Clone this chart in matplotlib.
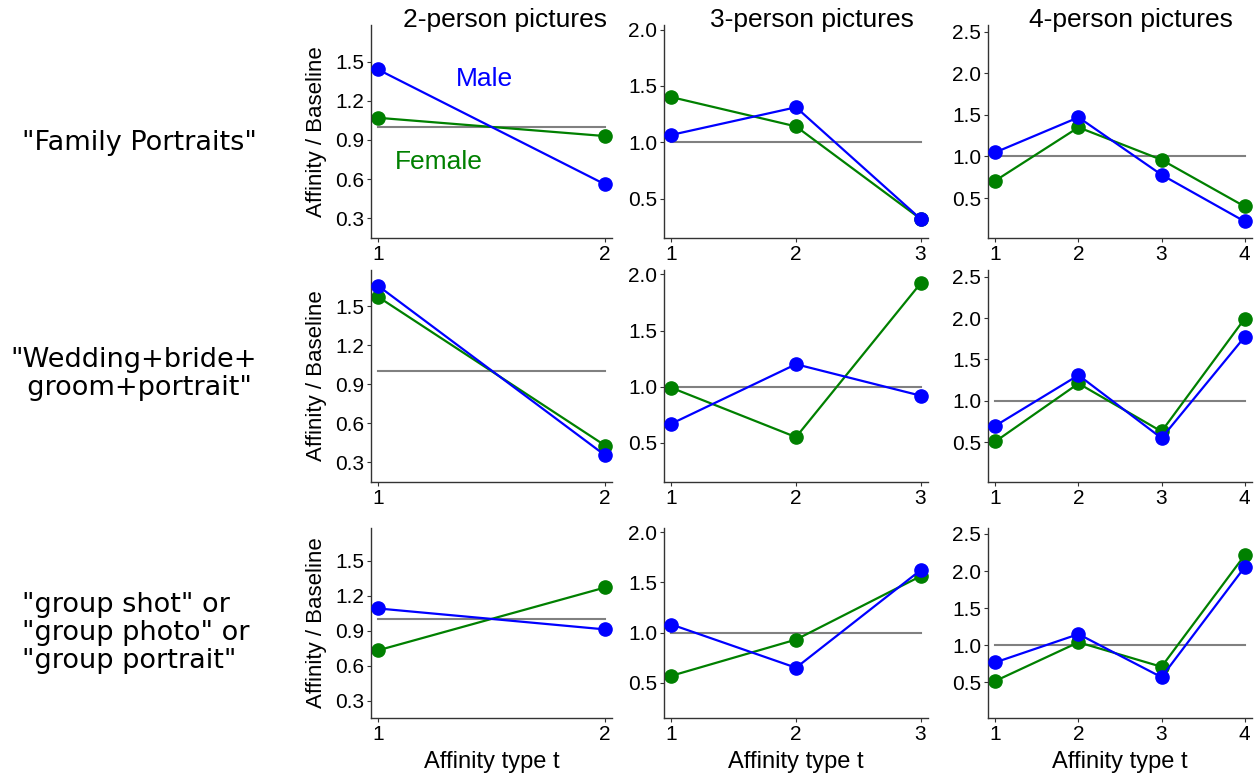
import matplotlib
matplotlib.use('Agg')
import matplotlib.pyplot as plt

# rows: query type, cols: group size (2, 3, 4 persons)
row_labels = ['"Family Portraits"',
              '"Wedding+bride+\n  groom+portrait"',
              '"group shot" or\n"group photo" or\n"group portrait"']
col_titles = ['2-person pictures', '3-person pictures', '4-person pictures']

male = [
    [[1.44, 0.56], [1.065, 1.31, 0.32], [1.05, 1.47, 0.78, 0.22]],
    [[1.66, 0.355], [0.67, 1.20, 0.92], [0.70, 1.31, 0.55, 1.77]],
    [[1.09, 0.91], [1.08, 0.65, 1.62], [0.77, 1.15, 0.57, 2.05]],
]
female = [
    [[1.07, 0.93], [1.40, 1.14, 0.32], [0.71, 1.35, 0.96, 0.40]],
    [[1.575, 0.43], [0.99, 0.55, 1.92], [0.51, 1.21, 0.63, 1.99]],
    [[0.73, 1.27], [0.57, 0.93, 1.56], [0.52, 1.04, 0.71, 2.21]],
]

y_ticks = [[0.3, 0.6, 0.9, 1.2, 1.5], [0.5, 1.0, 1.5, 2.0], [0.5, 1.0, 1.5, 2.0, 2.5]]
y_lims = [(0.15, 1.78), (0.15, 2.04), (0.02, 2.58)]

tick_font = 'Liberation Sans'
W, H = 1256, 774
col_px = [(371, 612), (664, 928), (988, 1252)]
row_px = [(25, 238), (270, 482), (528, 718)]
title_x = [0.555, 0.56, 0.54]

fig = plt.figure(figsize=(W / 100, H / 100), dpi=100)

for r in range(3):
    for c in range(3):
        x0, x1 = col_px[c]
        y0, y1 = row_px[r]
        ax = fig.add_axes([x0 / W, 1 - y1 / H, (x1 - x0) / W, (y1 - y0) / H])
        n = c + 2
        xs = list(range(1, n + 1))
        ax.plot([1, n], [1, 1], color='#808080', lw=1.5, zorder=1)
        ax.plot(xs, female[r][c], color='#008000', lw=1.6, marker='o', ms=9.5, zorder=2)
        ax.plot(xs, male[r][c], color='#0000ff', lw=1.6, marker='o', ms=9.5, zorder=3)

        pad = 0.03 * (n - 1)
        ax.set_xlim(1 - pad, n + pad)
        ax.set_ylim(*y_lims[c])
        ax.set_xticks(xs)
        ax.set_yticks(y_ticks[c])
        ax.set_yticklabels([f'{v:.1f}' for v in y_ticks[c]])
        ax.spines['top'].set_visible(False)
        ax.spines['right'].set_visible(False)
        for s in ('left', 'bottom'):
            ax.spines[s].set_color('#333333')
            ax.spines[s].set_linewidth(1.0)
        ax.tick_params(length=3, width=0.8, color='#333333', labelsize=15, pad=2)
        for lab in ax.get_xticklabels() + ax.get_yticklabels():
            lab.set_fontfamily(tick_font)

        if c == 0:
            ax.set_ylabel('Affinity / Baseline', fontsize=16, fontfamily=tick_font, labelpad=6)
        if r == 2:
            ax.set_xlabel('Affinity type t', fontsize=17, fontfamily=tick_font, labelpad=5)
        if r == 0:
            ax.set_title(col_titles[c], fontsize=19, fontfamily=tick_font,
                         x=title_x[c], y=0.93, va='bottom')
        if r == 0 and c == 0:
            ax.text(1.47, 1.37, 'Male', color='#0000ff', fontsize=19, fontfamily=tick_font,
                    ha='center', va='center')
            ax.text(1.27, 0.73, 'Female', color='#008000', fontsize=19, fontfamily=tick_font,
                    ha='center', va='center')

label_y = [143, 374, 633]
label_x = [22, 10, 22]
for txt, yy, xx in zip(row_labels, label_y, label_x):
    fig.text(xx / W, 1 - yy / H, txt, fontsize=19.5, fontfamily='DejaVu Sans',
             ha='left', va='center', linespacing=1.08)

fig.savefig('out.png', dpi=100)
